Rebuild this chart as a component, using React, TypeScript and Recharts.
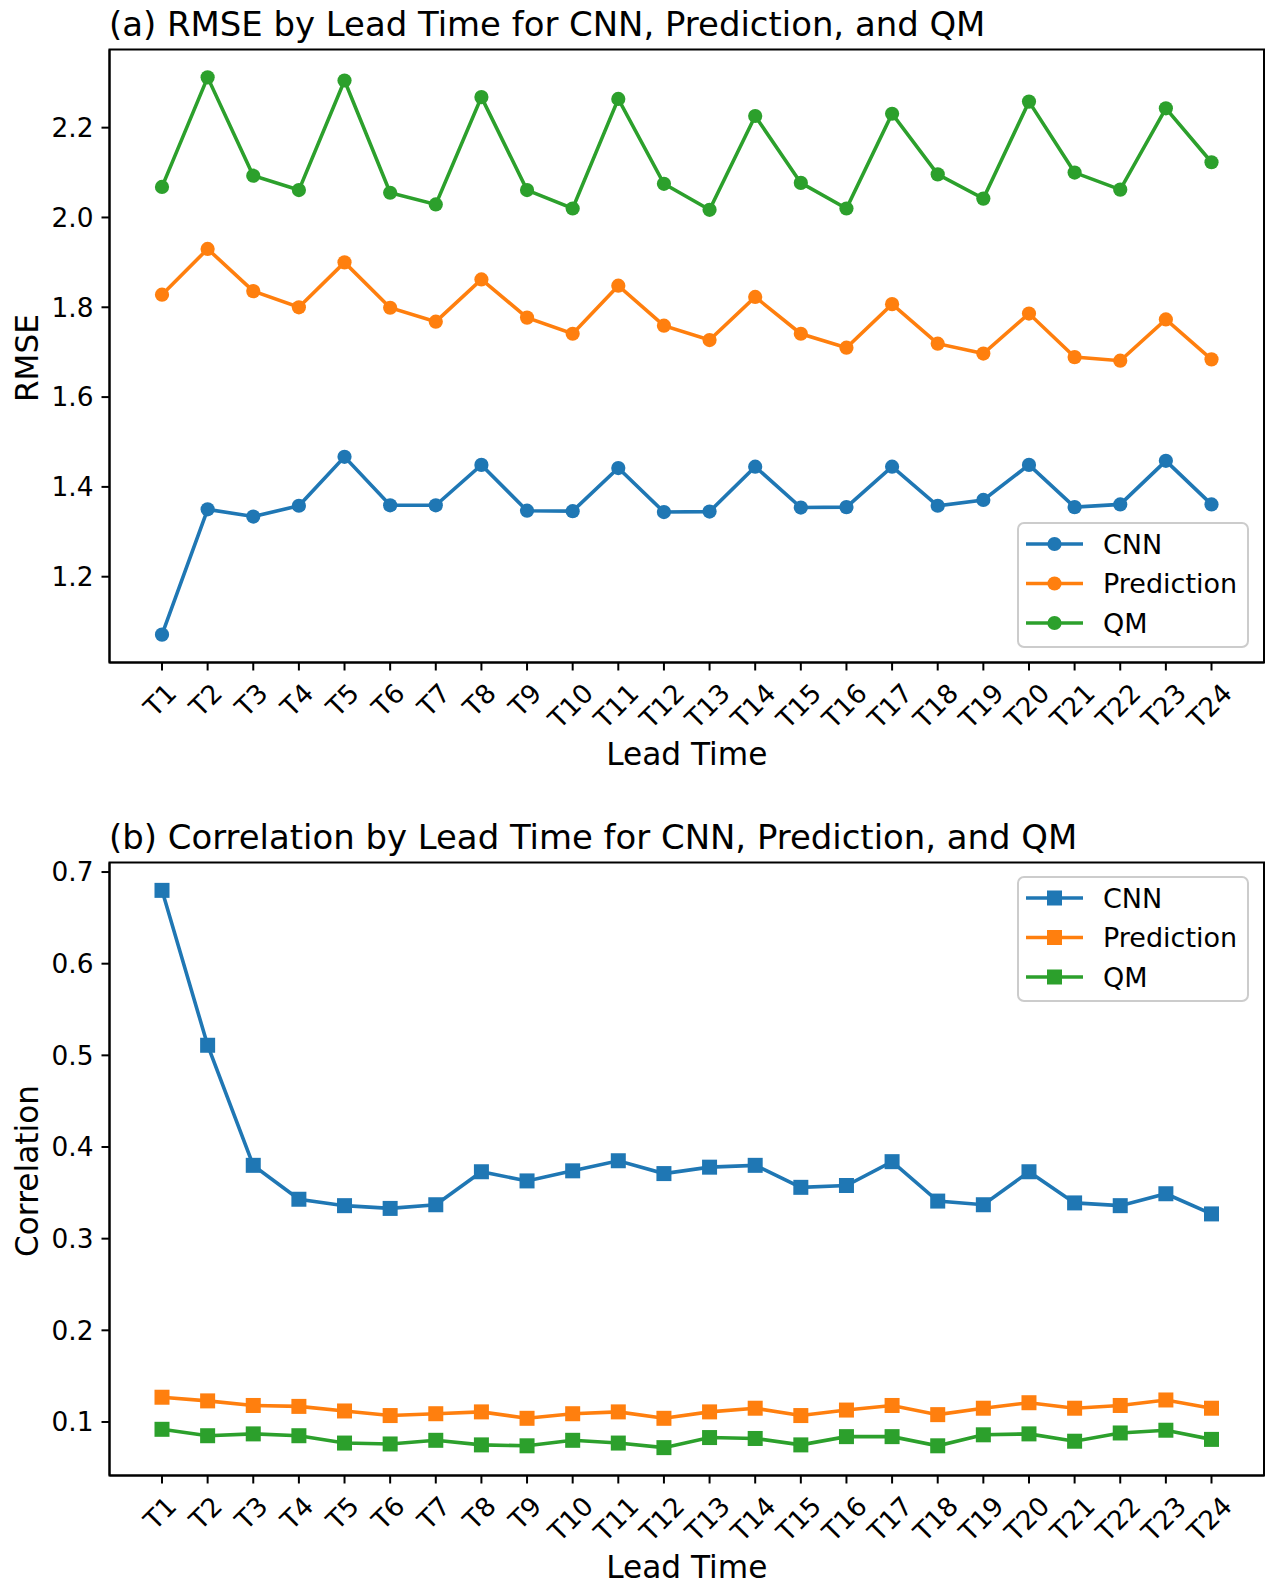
import React from 'react';
import { LineChart, Line, XAxis, YAxis, Legend } from 'recharts';

// ---------- data ----------
const leadTimes = [
  'T1', 'T2', 'T3', 'T4', 'T5', 'T6', 'T7', 'T8', 'T9', 'T10', 'T11', 'T12',
  'T13', 'T14', 'T15', 'T16', 'T17', 'T18', 'T19', 'T20', 'T21', 'T22', 'T23', 'T24',
];

const rmseCNN = [
  1.071, 1.350, 1.334, 1.358, 1.467, 1.359, 1.359, 1.449, 1.347, 1.346, 1.442, 1.344,
  1.345, 1.445, 1.354, 1.355, 1.445, 1.358, 1.371, 1.449, 1.355, 1.361, 1.458, 1.361,
];
const rmsePrediction = [
  1.828, 1.930, 1.836, 1.800, 1.900, 1.799, 1.768, 1.862, 1.777, 1.741, 1.848, 1.759,
  1.727, 1.823, 1.741, 1.710, 1.807, 1.719, 1.697, 1.786, 1.689, 1.681, 1.773, 1.684,
];
const rmseQM = [
  2.068, 2.312, 2.093, 2.061, 2.305, 2.055, 2.029, 2.268, 2.061, 2.020, 2.264, 2.075,
  2.017, 2.226, 2.077, 2.020, 2.231, 2.096, 2.042, 2.258, 2.100, 2.062, 2.243, 2.123,
];

const corrCNN = [
  0.680, 0.511, 0.380, 0.343, 0.336, 0.333, 0.337, 0.373, 0.363, 0.374, 0.385, 0.371,
  0.378, 0.380, 0.356, 0.358, 0.384, 0.341, 0.337, 0.373, 0.339, 0.336, 0.349, 0.327,
];
const corrPrediction = [
  0.127, 0.123, 0.118, 0.117, 0.112, 0.107, 0.109, 0.111, 0.104, 0.109, 0.111, 0.104,
  0.111, 0.115, 0.107, 0.113, 0.118, 0.108, 0.115, 0.121, 0.115, 0.118, 0.124, 0.115,
];
const corrQM = [
  0.092, 0.085, 0.087, 0.085, 0.077, 0.076, 0.080, 0.075, 0.074, 0.080, 0.077, 0.072,
  0.083, 0.082, 0.075, 0.084, 0.084, 0.074, 0.086, 0.087, 0.079, 0.088, 0.091, 0.081,
];

const rmseTicks = [1.2, 1.4, 1.6, 1.8, 2.0, 2.2];
const corrTicks = [0.1, 0.2, 0.3, 0.4, 0.5, 0.6, 0.7];

const seriesNames = ['CNN', 'Prediction', 'QM'];
const seriesKeys = ['cnn', 'pred', 'qm'];
const seriesColors = ['#1f77b4', '#ff7f0e', '#2ca02c'];

const rmseRows = leadTimes.map((lead, i) => ({
  lead,
  cnn: rmseCNN[i],
  pred: rmsePrediction[i],
  qm: rmseQM[i],
}));
const corrRows = leadTimes.map((lead, i) => ({
  lead,
  cnn: corrCNN[i],
  pred: corrPrediction[i],
  qm: corrQM[i],
}));

// ---------- layout ----------
const FONT = "'DejaVu Sans', 'Liberation Sans', sans-serif";
const W = 1288;
const H = 775;
const PLOT_LEFT = 109.5;
const PLOT_RIGHT = 1264;
const PLOT_TOP = 49.5;
const PLOT_H = 613;
const X_AXIS_H = H - PLOT_TOP - PLOT_H;
const PAD = 52.5;
const TICK_FS = 26.4;
const LEGEND_FS = 27;
const LABEL_FS = 31.2;
const TITLE_FS = 33.9;

function autoDomain(rows: any[]): [number, number] {
  const vals = rows.flatMap((r) => seriesKeys.map((k) => r[k] as number));
  const mn = Math.min(...vals);
  const mx = Math.max(...vals);
  const m = (mx - mn) * 0.05;
  return [mn - m, mx + m];
}

function Marker({ cx, cy, color, shape }: { cx: number; cy: number; color: string; shape: string }) {
  if (shape === 'square') {
    return <rect x={cx - 7.5} y={cy - 7.5} width={15} height={15} fill={color} />;
  }
  return <circle cx={cx} cy={cy} r={7.1} fill={color} />;
}

function RotatedTick(props: any) {
  const { x, y, payload } = props;
  const s = String(payload.value);
  const fs = TICK_FS;
  const w = fs * (0.611 + 0.636 * (s.length - 1));
  const h = fs * 1.164;
  const bh = (w + h) * Math.SQRT1_2;
  const cx = x - 2;
  const cy = y + bh / 2;
  return (
    <text
      x={cx}
      y={cy}
      dy="0.35em"
      textAnchor="middle"
      transform={`rotate(-45 ${cx} ${cy})`}
      fontSize={fs}
      fontFamily={FONT}
      fill="#000"
    >
      {s}
    </text>
  );
}

function LegendBox({ shape }: { shape: string }) {
  return (
    <svg width={232} height={126} style={{ display: 'block', overflow: 'visible' }}>
      <rect x={1} y={1} width={230} height={124} rx={6} ry={6} fill="#fff" fillOpacity={0.8} stroke="#cccccc" strokeWidth={2} />
      {seriesNames.map((name, i) => {
        const cy = 22 + i * 39.5;
        const color = seriesColors[i];
        return (
          <g key={name}>
            <line x1={9} x2={66} y1={cy} y2={cy} stroke={color} strokeWidth={3.6} />
            <Marker cx={37.5} cy={cy} color={color} shape={shape} />
            <text x={86} y={cy} dy="0.36em" fontSize={LEGEND_FS} fontFamily={FONT} fill="#000">
              {name}
            </text>
          </g>
        );
      })}
    </svg>
  );
}

function MetricChart({
  rows,
  ticks,
  title,
  yLabel,
  shape,
  legendTop,
  top,
}: {
  rows: any[];
  ticks: number[];
  title: string;
  yLabel: string;
  shape: string;
  legendTop: number;
  top: number;
}) {
  const domain = autoDomain(rows);
  const axisStyle = { stroke: '#000', strokeWidth: 2 };
  return (
    <div style={{ position: 'absolute', left: 0, top, width: W, height: H }}>
      <LineChart
        width={W}
        height={H}
        data={rows}
        margin={{ top: PLOT_TOP, right: W - PLOT_RIGHT, left: 0, bottom: 0 }}
      >
        <XAxis
          dataKey="lead"
          type="category"
          interval={0}
          padding={{ left: PAD, right: PAD }}
          height={X_AXIS_H}
          tickSize={8}
          tickMargin={7}
          tickLine={axisStyle}
          axisLine={axisStyle}
          tick={<RotatedTick />}
        />
        <YAxis
          type="number"
          domain={domain}
          allowDataOverflow
          ticks={ticks}
          interval={0}
          width={PLOT_LEFT}
          tickSize={8}
          tickMargin={8}
          tickLine={axisStyle}
          axisLine={axisStyle}
          tickFormatter={(v: number) => v.toFixed(1)}
          tick={{ fill: '#000', fontSize: TICK_FS, fontFamily: FONT }}
        />
        {seriesKeys.map((k, i) => (
          <Line
            key={k}
            type="linear"
            dataKey={k}
            name={seriesNames[i]}
            stroke={seriesColors[i]}
            strokeWidth={3.6}
            isAnimationActive={false}
            activeDot={false}
            dot={(p: any) => (
              <Marker
                key={`dot-${k}-${p.index}`}
                cx={p.cx}
                cy={p.cy}
                color={seriesColors[i]}
                shape={shape}
              />
            )}
          />
        ))}
        <Legend
          layout="horizontal"
          verticalAlign="middle"
          align="center"
          wrapperStyle={{ left: 1017, top: legendTop, width: 232, height: 126 }}
          content={() => <LegendBox shape={shape} />}
        />
      </LineChart>
      <svg
        width={W}
        height={H}
        style={{ position: 'absolute', left: 0, top: 0, pointerEvents: 'none' }}
      >
        <rect
          x={PLOT_LEFT}
          y={PLOT_TOP}
          width={PLOT_RIGHT - PLOT_LEFT}
          height={PLOT_H}
          fill="none"
          stroke="#000"
          strokeWidth={2}
        />
        <text x={109} y={36} fontSize={TITLE_FS} fontFamily={FONT} fill="#000">
          {title}
        </text>
        <text
          x={(PLOT_LEFT + PLOT_RIGHT) / 2}
          y={765}
          textAnchor="middle"
          fontSize={LABEL_FS}
          fontFamily={FONT}
          fill="#000"
        >
          Lead Time
        </text>
        <text
          transform={`translate(38 ${PLOT_TOP + PLOT_H / 2 + 2}) rotate(-90)`}
          textAnchor="middle"
          fontSize={LABEL_FS}
          fontFamily={FONT}
          fill="#000"
        >
          {yLabel}
        </text>
      </svg>
    </div>
  );
}

export default function App() {
  return (
    <div
      style={{
        position: 'absolute',
        left: 0,
        top: 0,
        width: W,
        height: 1591,
        background: '#fff',
        overflow: 'hidden',
      }}
    >
      <MetricChart
        rows={rmseRows}
        ticks={rmseTicks}
        title="(a) RMSE by Lead Time for CNN, Prediction, and QM"
        yLabel="RMSE"
        shape="circle"
        legendTop={521.7}
        top={0}
      />
      <MetricChart
        rows={corrRows}
        ticks={corrTicks}
        title="(b) Correlation by Lead Time for CNN, Prediction, and QM"
        yLabel="Correlation"
        shape="square"
        legendTop={62.8}
        top={813.2}
      />
    </div>
  );
}
